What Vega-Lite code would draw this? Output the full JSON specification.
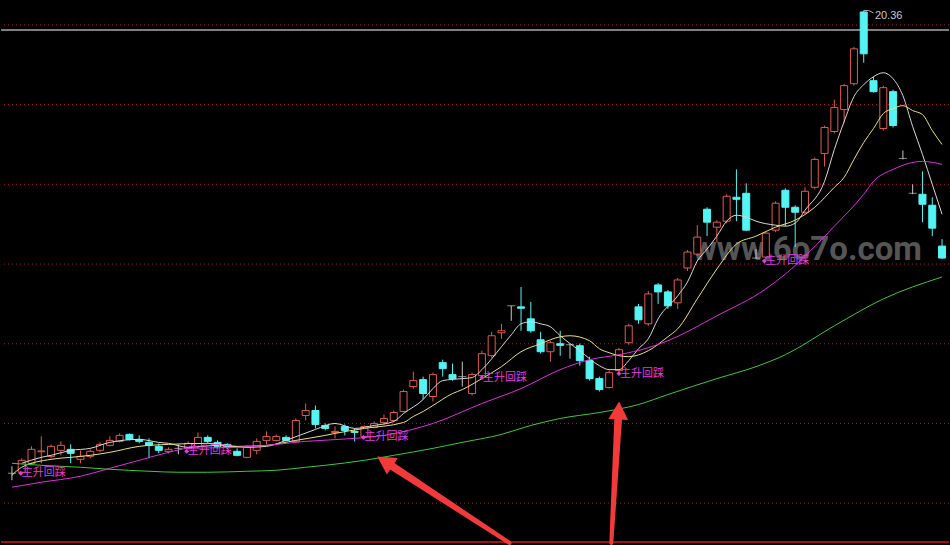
{
  "$schema": "https://vega.github.io/schema/vega-lite/v6.json",
  "width": 950,
  "height": 545,
  "autosize": {"type": "fit", "contains": "padding"},
  "padding": 0,
  "background": "#000000",
  "config": {"view": {"stroke": null}},
  "datasets": {
    "candles": [
      {"i": 0, "o": 8.75, "h": 8.925, "l": 8.575, "c": 8.75, "d": "flat"},
      {"i": 1, "o": 8.775, "h": 9.125, "l": 8.725, "c": 9.075, "d": "up"},
      {"i": 2, "o": 9.0, "h": 9.425, "l": 8.975, "c": 9.35, "d": "up"},
      {"i": 3, "o": 9.29, "h": 9.675, "l": 9.0, "c": 9.31, "d": "up"},
      {"i": 4, "o": 9.175, "h": 9.475, "l": 9.125, "c": 9.425, "d": "up"},
      {"i": 5, "o": 9.325, "h": 9.55, "l": 9.2, "c": 9.45, "d": "up"},
      {"i": 6, "o": 9.35, "h": 9.475, "l": 9.0, "c": 9.25, "d": "down"},
      {"i": 7, "o": 9.1, "h": 9.325, "l": 9.0, "c": 9.175, "d": "up"},
      {"i": 8, "o": 9.175, "h": 9.35, "l": 9.125, "c": 9.3, "d": "up"},
      {"i": 9, "o": 9.325, "h": 9.525, "l": 9.275, "c": 9.475, "d": "up"},
      {"i": 10, "o": 9.45, "h": 9.675, "l": 9.425, "c": 9.575, "d": "up"},
      {"i": 11, "o": 9.55, "h": 9.75, "l": 9.525, "c": 9.7, "d": "up"},
      {"i": 12, "o": 9.725, "h": 9.75, "l": 9.575, "c": 9.6, "d": "down"},
      {"i": 13, "o": 9.6, "h": 9.7, "l": 9.5, "c": 9.55, "d": "down"},
      {"i": 14, "o": 9.525, "h": 9.625, "l": 9.125, "c": 9.45, "d": "down"},
      {"i": 15, "o": 9.425, "h": 9.5, "l": 9.25, "c": 9.325, "d": "down"},
      {"i": 16, "o": 9.3, "h": 9.4, "l": 9.25, "c": 9.35, "d": "up"},
      {"i": 17, "o": 9.375, "h": 9.475, "l": 9.225, "c": 9.375, "d": "flat"},
      {"i": 18, "o": 9.375, "h": 9.55, "l": 9.35, "c": 9.5, "d": "up"},
      {"i": 19, "o": 9.425, "h": 9.775, "l": 9.375, "c": 9.65, "d": "up"},
      {"i": 20, "o": 9.65, "h": 9.7, "l": 9.5, "c": 9.55, "d": "down"},
      {"i": 21, "o": 9.525, "h": 9.575, "l": 9.375, "c": 9.425, "d": "down"},
      {"i": 22, "o": 9.475, "h": 9.5, "l": 9.35, "c": 9.4, "d": "down"},
      {"i": 23, "o": 9.3, "h": 9.375, "l": 9.175, "c": 9.2, "d": "down"},
      {"i": 24, "o": 9.15, "h": 9.45, "l": 9.125, "c": 9.4, "d": "up"},
      {"i": 25, "o": 9.325, "h": 9.625, "l": 9.225, "c": 9.55, "d": "up"},
      {"i": 26, "o": 9.575, "h": 9.8, "l": 9.475, "c": 9.675, "d": "up"},
      {"i": 27, "o": 9.575, "h": 9.725, "l": 9.55, "c": 9.675, "d": "up"},
      {"i": 28, "o": 9.65, "h": 9.7, "l": 9.55, "c": 9.575, "d": "down"},
      {"i": 29, "o": 9.55, "h": 10.125, "l": 9.525, "c": 10.075, "d": "up"},
      {"i": 30, "o": 10.2, "h": 10.5, "l": 10.075, "c": 10.325, "d": "up"},
      {"i": 31, "o": 10.325, "h": 10.45, "l": 9.875, "c": 9.975, "d": "down"},
      {"i": 32, "o": 9.95, "h": 10.0, "l": 9.825, "c": 9.875, "d": "down"},
      {"i": 33, "o": 9.775, "h": 9.925, "l": 9.625, "c": 9.8, "d": "up"},
      {"i": 34, "o": 9.925, "h": 9.975, "l": 9.7, "c": 9.825, "d": "down"},
      {"i": 35, "o": 9.8, "h": 9.875, "l": 9.55, "c": 9.775, "d": "down"},
      {"i": 36, "o": 9.675, "h": 9.95, "l": 9.625, "c": 9.925, "d": "up"},
      {"i": 37, "o": 9.9, "h": 10.05, "l": 9.875, "c": 10.0, "d": "up"},
      {"i": 38, "o": 10.025, "h": 10.225, "l": 9.975, "c": 10.125, "d": "up"},
      {"i": 39, "o": 10.075, "h": 10.325, "l": 10.025, "c": 10.275, "d": "up"},
      {"i": 40, "o": 10.3, "h": 10.85, "l": 10.275, "c": 10.8, "d": "up"},
      {"i": 41, "o": 10.925, "h": 11.3, "l": 10.875, "c": 11.075, "d": "up"},
      {"i": 42, "o": 11.1, "h": 11.175, "l": 10.6, "c": 10.75, "d": "down"},
      {"i": 43, "o": 10.675, "h": 11.275, "l": 10.55, "c": 11.225, "d": "up"},
      {"i": 44, "o": 11.525, "h": 11.6, "l": 11.175, "c": 11.375, "d": "down"},
      {"i": 45, "o": 11.225, "h": 11.5, "l": 11.075, "c": 11.125, "d": "down"},
      {"i": 46, "o": 11.175, "h": 11.55, "l": 10.925, "c": 11.175, "d": "flat"},
      {"i": 47, "o": 10.75, "h": 11.275, "l": 10.7, "c": 11.225, "d": "up"},
      {"i": 48, "o": 11.2, "h": 11.825, "l": 11.15, "c": 11.75, "d": "up"},
      {"i": 49, "o": 11.7, "h": 12.3, "l": 11.65, "c": 12.2, "d": "up"},
      {"i": 50, "o": 12.275, "h": 12.5, "l": 12.125, "c": 12.325, "d": "up"},
      {"i": 51, "o": 12.95, "h": 12.95, "l": 12.575, "c": 12.95, "d": "flat"},
      {"i": 52, "o": 12.925, "h": 13.425, "l": 12.325, "c": 12.89, "d": "down"},
      {"i": 53, "o": 12.625, "h": 13.05, "l": 12.275, "c": 12.325, "d": "down"},
      {"i": 54, "o": 12.1, "h": 12.3, "l": 11.75, "c": 11.8, "d": "down"},
      {"i": 55, "o": 11.8, "h": 12.075, "l": 11.55, "c": 12.025, "d": "up"},
      {"i": 56, "o": 12.0, "h": 12.325, "l": 11.7, "c": 11.96, "d": "down"},
      {"i": 57, "o": 11.975, "h": 12.0, "l": 11.625, "c": 11.975, "d": "flat"},
      {"i": 58, "o": 11.95, "h": 12.0, "l": 11.45, "c": 11.575, "d": "down"},
      {"i": 59, "o": 11.575, "h": 11.675, "l": 11.075, "c": 11.125, "d": "down"},
      {"i": 60, "o": 11.125, "h": 11.175, "l": 10.8, "c": 10.85, "d": "down"},
      {"i": 61, "o": 10.9, "h": 11.325, "l": 10.875, "c": 11.275, "d": "up"},
      {"i": 62, "o": 11.325, "h": 11.9, "l": 11.275, "c": 11.85, "d": "up"},
      {"i": 63, "o": 12.025, "h": 12.5, "l": 11.975, "c": 12.45, "d": "up"},
      {"i": 64, "o": 12.925, "h": 13.0, "l": 12.5, "c": 12.6, "d": "down"},
      {"i": 65, "o": 12.5, "h": 13.325, "l": 12.45, "c": 13.25, "d": "up"},
      {"i": 66, "o": 13.475, "h": 13.525, "l": 13.0, "c": 13.3, "d": "down"},
      {"i": 67, "o": 13.3, "h": 13.35, "l": 12.875, "c": 12.95, "d": "down"},
      {"i": 68, "o": 13.025, "h": 13.65, "l": 12.875, "c": 13.6, "d": "up"},
      {"i": 69, "o": 13.9, "h": 14.35, "l": 13.825, "c": 14.3, "d": "up"},
      {"i": 70, "o": 14.25, "h": 14.975, "l": 14.2, "c": 14.675, "d": "up"},
      {"i": 71, "o": 15.375, "h": 15.425, "l": 14.7, "c": 15.05, "d": "down"},
      {"i": 72, "o": 14.925, "h": 15.1, "l": 14.55, "c": 15.05, "d": "up"},
      {"i": 73, "o": 15.075, "h": 15.75, "l": 15.025, "c": 15.7, "d": "up"},
      {"i": 74, "o": 15.675, "h": 16.375, "l": 15.075, "c": 15.625, "d": "down"},
      {"i": 75, "o": 15.775, "h": 16.025, "l": 14.825, "c": 14.85, "d": "down"},
      {"i": 76, "o": 14.15, "h": 14.375, "l": 14.125, "c": 14.15, "d": "flat"},
      {"i": 77, "o": 14.175, "h": 14.825, "l": 14.075, "c": 14.775, "d": "up"},
      {"i": 78, "o": 14.85, "h": 15.575, "l": 14.8, "c": 15.525, "d": "up"},
      {"i": 79, "o": 15.85, "h": 15.9, "l": 14.95, "c": 15.425, "d": "down"},
      {"i": 80, "o": 15.425, "h": 15.475, "l": 14.425, "c": 15.3, "d": "down"},
      {"i": 81, "o": 15.3, "h": 15.925, "l": 15.25, "c": 15.825, "d": "up"},
      {"i": 82, "o": 15.925, "h": 16.675, "l": 15.875, "c": 16.625, "d": "up"},
      {"i": 83, "o": 16.775, "h": 17.475, "l": 16.45, "c": 17.425, "d": "up"},
      {"i": 84, "o": 17.325, "h": 18.125, "l": 17.275, "c": 17.925, "d": "up"},
      {"i": 85, "o": 17.875, "h": 18.525, "l": 17.55, "c": 18.475, "d": "up"},
      {"i": 86, "o": 18.525, "h": 19.45, "l": 18.475, "c": 19.4, "d": "up"},
      {"i": 87, "o": 20.325, "h": 20.36, "l": 19.05, "c": 19.275, "d": "down"},
      {"i": 88, "o": 18.6, "h": 18.7, "l": 18.3, "c": 18.325, "d": "down"},
      {"i": 89, "o": 17.4, "h": 18.475, "l": 17.35, "c": 18.425, "d": "up"},
      {"i": 90, "o": 18.325, "h": 18.375, "l": 17.425, "c": 17.475, "d": "down"},
      {"i": 91, "o": 16.65, "h": 16.85, "l": 16.625, "c": 16.65, "d": "flat"},
      {"i": 92, "o": 15.775, "h": 16.0, "l": 15.75, "c": 15.775, "d": "flat"},
      {"i": 93, "o": 15.75, "h": 16.325, "l": 15.05, "c": 15.5, "d": "down"},
      {"i": 94, "o": 15.475, "h": 15.675, "l": 14.7, "c": 14.9, "d": "down"},
      {"i": 95, "o": 14.45, "h": 14.625, "l": 14.125, "c": 14.15, "d": "down"}
    ],
    "ma": [
      {"s": "ma5", "i": 1, "v": 9.0}, {"s": "ma5", "i": 3, "v": 9.15}, {"s": "ma5", "i": 4, "v": 9.2},
      {"s": "ma5", "i": 6, "v": 9.325}, {"s": "ma5", "i": 8, "v": 9.375}, {"s": "ma5", "i": 10, "v": 9.525},
      {"s": "ma5", "i": 13, "v": 9.6}, {"s": "ma5", "i": 15, "v": 9.525}, {"s": "ma5", "i": 16, "v": 9.5},
      {"s": "ma5", "i": 18, "v": 9.4}, {"s": "ma5", "i": 21, "v": 9.45}, {"s": "ma5", "i": 24, "v": 9.4},
      {"s": "ma5", "i": 26, "v": 9.425}, {"s": "ma5", "i": 28, "v": 9.575}, {"s": "ma5", "i": 31, "v": 9.85},
      {"s": "ma5", "i": 33, "v": 10.0}, {"s": "ma5", "i": 35, "v": 9.875}, {"s": "ma5", "i": 37, "v": 9.95},
      {"s": "ma5", "i": 39, "v": 10.05}, {"s": "ma5", "i": 40, "v": 10.25}, {"s": "ma5", "i": 42, "v": 10.6},
      {"s": "ma5", "i": 43, "v": 10.875}, {"s": "ma5", "i": 44, "v": 11.075}, {"s": "ma5", "i": 46, "v": 11.125},
      {"s": "ma5", "i": 47, "v": 11.15}, {"s": "ma5", "i": 48, "v": 11.35}, {"s": "ma5", "i": 50, "v": 11.925},
      {"s": "ma5", "i": 51, "v": 12.225}, {"s": "ma5", "i": 52, "v": 12.5}, {"s": "ma5", "i": 53, "v": 12.55},
      {"s": "ma5", "i": 54, "v": 12.5}, {"s": "ma5", "i": 55, "v": 12.425}, {"s": "ma5", "i": 56, "v": 12.2},
      {"s": "ma5", "i": 58, "v": 11.825}, {"s": "ma5", "i": 60, "v": 11.45}, {"s": "ma5", "i": 61, "v": 11.35},
      {"s": "ma5", "i": 62, "v": 11.35}, {"s": "ma5", "i": 63, "v": 11.575}, {"s": "ma5", "i": 64, "v": 11.875},
      {"s": "ma5", "i": 65, "v": 12.125}, {"s": "ma5", "i": 66, "v": 12.625}, {"s": "ma5", "i": 68, "v": 13.2},
      {"s": "ma5", "i": 69, "v": 13.55}, {"s": "ma5", "i": 70, "v": 14.075}, {"s": "ma5", "i": 71, "v": 14.375},
      {"s": "ma5", "i": 72, "v": 14.7}, {"s": "ma5", "i": 73, "v": 15.075}, {"s": "ma5", "i": 74, "v": 15.225},
      {"s": "ma5", "i": 75, "v": 15.175}, {"s": "ma5", "i": 76, "v": 15.075}, {"s": "ma5", "i": 78, "v": 14.975},
      {"s": "ma5", "i": 79, "v": 14.95}, {"s": "ma5", "i": 80, "v": 15.025}, {"s": "ma5", "i": 81, "v": 15.35},
      {"s": "ma5", "i": 83, "v": 16.075}, {"s": "ma5", "i": 84, "v": 16.875}, {"s": "ma5", "i": 85, "v": 17.575},
      {"s": "ma5", "i": 86, "v": 18.2}, {"s": "ma5", "i": 87, "v": 18.5}, {"s": "ma5", "i": 88, "v": 18.7},
      {"s": "ma5", "i": 89, "v": 18.8}, {"s": "ma5", "i": 90, "v": 18.65}, {"s": "ma5", "i": 91, "v": 18.225},
      {"s": "ma5", "i": 92, "v": 17.45}, {"s": "ma5", "i": 93, "v": 16.75}, {"s": "ma5", "i": 94, "v": 16.0},
      {"s": "ma5", "i": 95, "v": 15.25},
      {"s": "ma10", "i": 0, "v": 8.7}, {"s": "ma10", "i": 1, "v": 8.9}, {"s": "ma10", "i": 4, "v": 9.1},
      {"s": "ma10", "i": 6, "v": 9.15}, {"s": "ma10", "i": 8, "v": 9.2}, {"s": "ma10", "i": 10, "v": 9.275},
      {"s": "ma10", "i": 13, "v": 9.425}, {"s": "ma10", "i": 16, "v": 9.475}, {"s": "ma10", "i": 20, "v": 9.5},
      {"s": "ma10", "i": 23, "v": 9.425}, {"s": "ma10", "i": 26, "v": 9.45}, {"s": "ma10", "i": 29, "v": 9.575},
      {"s": "ma10", "i": 32, "v": 9.7}, {"s": "ma10", "i": 33, "v": 9.75}, {"s": "ma10", "i": 36, "v": 9.875},
      {"s": "ma10", "i": 40, "v": 10.025}, {"s": "ma10", "i": 41, "v": 10.175}, {"s": "ma10", "i": 42, "v": 10.3},
      {"s": "ma10", "i": 43, "v": 10.45}, {"s": "ma10", "i": 45, "v": 10.75}, {"s": "ma10", "i": 46, "v": 10.85},
      {"s": "ma10", "i": 48, "v": 11.125}, {"s": "ma10", "i": 50, "v": 11.425}, {"s": "ma10", "i": 52, "v": 11.8},
      {"s": "ma10", "i": 54, "v": 12.0}, {"s": "ma10", "i": 56, "v": 12.175}, {"s": "ma10", "i": 57, "v": 12.2},
      {"s": "ma10", "i": 59, "v": 12.075}, {"s": "ma10", "i": 60, "v": 11.875}, {"s": "ma10", "i": 61, "v": 11.775},
      {"s": "ma10", "i": 62, "v": 11.7}, {"s": "ma10", "i": 63, "v": 11.675}, {"s": "ma10", "i": 65, "v": 11.825},
      {"s": "ma10", "i": 67, "v": 12.175}, {"s": "ma10", "i": 68, "v": 12.375}, {"s": "ma10", "i": 70, "v": 13.125},
      {"s": "ma10", "i": 72, "v": 13.875}, {"s": "ma10", "i": 74, "v": 14.5}, {"s": "ma10", "i": 76, "v": 14.7},
      {"s": "ma10", "i": 78, "v": 14.925}, {"s": "ma10", "i": 80, "v": 15.1}, {"s": "ma10", "i": 82, "v": 15.425},
      {"s": "ma10", "i": 84, "v": 15.925}, {"s": "ma10", "i": 85, "v": 16.175}, {"s": "ma10", "i": 86, "v": 16.625},
      {"s": "ma10", "i": 87, "v": 17.05}, {"s": "ma10", "i": 88, "v": 17.4}, {"s": "ma10", "i": 89, "v": 17.775},
      {"s": "ma10", "i": 90, "v": 17.9}, {"s": "ma10", "i": 91, "v": 17.975}, {"s": "ma10", "i": 92, "v": 17.85},
      {"s": "ma10", "i": 93, "v": 17.75}, {"s": "ma10", "i": 94, "v": 17.35}, {"s": "ma10", "i": 95, "v": 17.0},
      {"s": "ma30", "i": 0, "v": 8.4}, {"s": "ma30", "i": 3, "v": 8.525}, {"s": "ma30", "i": 7, "v": 8.675},
      {"s": "ma30", "i": 10, "v": 8.875}, {"s": "ma30", "i": 13, "v": 9.075}, {"s": "ma30", "i": 16, "v": 9.275},
      {"s": "ma30", "i": 18, "v": 9.375}, {"s": "ma30", "i": 23, "v": 9.4}, {"s": "ma30", "i": 26, "v": 9.45},
      {"s": "ma30", "i": 30, "v": 9.55}, {"s": "ma30", "i": 35, "v": 9.625}, {"s": "ma30", "i": 38, "v": 9.7},
      {"s": "ma30", "i": 43, "v": 10.0}, {"s": "ma30", "i": 48, "v": 10.5}, {"s": "ma30", "i": 52, "v": 10.875},
      {"s": "ma30", "i": 56, "v": 11.35}, {"s": "ma30", "i": 59, "v": 11.6}, {"s": "ma30", "i": 62, "v": 11.725},
      {"s": "ma30", "i": 65, "v": 11.9}, {"s": "ma30", "i": 67, "v": 12.075}, {"s": "ma30", "i": 72, "v": 12.7},
      {"s": "ma30", "i": 77, "v": 13.375}, {"s": "ma30", "i": 79, "v": 13.75}, {"s": "ma30", "i": 84, "v": 14.95},
      {"s": "ma30", "i": 87, "v": 15.75}, {"s": "ma30", "i": 88, "v": 16.075}, {"s": "ma30", "i": 90, "v": 16.375},
      {"s": "ma30", "i": 93, "v": 16.575}, {"s": "ma30", "i": 95, "v": 16.5},
      {"s": "ma60", "i": 0, "v": 9.0}, {"s": "ma60", "i": 3, "v": 8.95}, {"s": "ma60", "i": 7, "v": 8.9},
      {"s": "ma60", "i": 10, "v": 8.85}, {"s": "ma60", "i": 14, "v": 8.8}, {"s": "ma60", "i": 17, "v": 8.775},
      {"s": "ma60", "i": 20, "v": 8.775}, {"s": "ma60", "i": 24, "v": 8.8}, {"s": "ma60", "i": 27, "v": 8.825},
      {"s": "ma60", "i": 30, "v": 8.9}, {"s": "ma60", "i": 32, "v": 8.95}, {"s": "ma60", "i": 36, "v": 9.075},
      {"s": "ma60", "i": 39, "v": 9.2}, {"s": "ma60", "i": 43, "v": 9.375}, {"s": "ma60", "i": 46, "v": 9.525},
      {"s": "ma60", "i": 50, "v": 9.725}, {"s": "ma60", "i": 53, "v": 9.95}, {"s": "ma60", "i": 56, "v": 10.125},
      {"s": "ma60", "i": 60, "v": 10.275}, {"s": "ma60", "i": 64, "v": 10.475}, {"s": "ma60", "i": 67, "v": 10.725},
      {"s": "ma60", "i": 72, "v": 11.125}, {"s": "ma60", "i": 76, "v": 11.425}, {"s": "ma60", "i": 79, "v": 11.725},
      {"s": "ma60", "i": 84, "v": 12.45}, {"s": "ma60", "i": 89, "v": 13.125}, {"s": "ma60", "i": 95, "v": 13.675}
    ],
    "labels": [
      {"i": 0.9, "p": 8.75, "t": "主升回踩"},
      {"i": 17.85, "p": 9.3, "t": "主升回踩"},
      {"i": 35.9, "p": 9.65, "t": "主升回踩"},
      {"i": 48.0, "p": 11.15, "t": "主升回踩"},
      {"i": 62.0, "p": 11.25, "t": "主升回踩"},
      {"i": 76.85, "p": 14.075, "t": "主升回踩"}
    ],
    "arrows": [
      {"a": "a1", "i": 50.83, "p": 7.0, "w": 0},
      {"a": "a1", "i": 38.08, "p": 9.05, "w": 1},
      {"a": "a2", "i": 61.22, "p": 7.0, "w": 0},
      {"a": "a2", "i": 61.97, "p": 10.325, "w": 1}
    ],
    "grid": [{"p": 8}, {"p": 10}, {"p": 12}, {"p": 14}, {"p": 16}, {"p": 18}, {"p": 20}]
  },
  "layer": [
    {
      "data": {"name": "grid"},
      "mark": {"type": "rule", "color": "#b01818", "strokeWidth": 1, "strokeDash": [1, 3]},
      "encoding": {
        "y": {"field": "p", "type": "quantitative", "scale": {"domain": [7, 20.625], "nice": false, "zero": false}, "axis": null}
      }
    },
    {
      "data": {"values": [{"p": 19.875}]},
      "mark": {"type": "rule", "color": "#a8a8a8", "strokeWidth": 1.5},
      "encoding": {"y": {"field": "p", "type": "quantitative"}}
    },
    {
      "data": {"values": [{"p": 7.025}]},
      "mark": {"type": "rule", "color": "#a01010", "strokeWidth": 2},
      "encoding": {"y": {"field": "p", "type": "quantitative"}}
    },
    {
      "data": {"values": [{"i": 81.23, "p": 14.1, "t": "www.6o7o.com"}]},
      "mark": {"type": "text", "font": "Roboto", "fontWeight": "bold", "fontSize": 33, "color": "#8a8a8a", "opacity": 0.62, "align": "center", "baseline": "alphabetic"},
      "encoding": {
        "x": {"field": "i", "type": "quantitative", "scale": {"domain": [-0.605, 95.2], "nice": false, "zero": false}, "axis": null},
        "y": {"field": "p", "type": "quantitative"},
        "text": {"field": "t"}
      }
    },
    {
      "data": {"name": "candles"},
      "mark": {"type": "rule", "strokeWidth": 1},
      "encoding": {
        "x": {"field": "i", "type": "quantitative"},
        "y": {"field": "h", "type": "quantitative"},
        "y2": {"field": "l"},
        "stroke": {"field": "d", "type": "nominal", "scale": {"domain": ["up", "down", "flat"], "range": ["#e05a50", "#55f4f4", "#c8c8c8"]}, "legend": null}
      }
    },
    {
      "data": {"name": "candles"},
      "transform": [{"filter": "datum.d != 'flat'"}],
      "mark": {"type": "bar", "size": 7, "strokeWidth": 1},
      "encoding": {
        "x": {"field": "i", "type": "quantitative"},
        "y": {"field": "o", "type": "quantitative"},
        "y2": {"field": "c"},
        "fill": {"field": "d", "type": "nominal", "scale": {"domain": ["up", "down", "flat"], "range": ["#000000", "#55f4f4", "#c8c8c8"]}, "legend": null},
        "stroke": {"field": "d", "type": "nominal", "legend": null}
      }
    },
    {
      "data": {"name": "candles"},
      "transform": [{"filter": "datum.d == 'flat'"}],
      "mark": {"type": "tick", "orient": "horizontal", "size": 8, "thickness": 1, "color": "#c8c8c8"},
      "encoding": {
        "x": {"field": "i", "type": "quantitative"},
        "y": {"field": "o", "type": "quantitative"}
      }
    },
    {
      "data": {"name": "ma"},
      "mark": {"type": "line", "strokeWidth": 1, "interpolate": "monotone"},
      "encoding": {
        "x": {"field": "i", "type": "quantitative"},
        "y": {"field": "v", "type": "quantitative"},
        "color": {"field": "s", "type": "nominal", "scale": {"domain": ["ma5", "ma10", "ma30", "ma60"], "range": ["#d8d8d8", "#e8e27a", "#e02ce0", "#3cc83c"]}, "legend": null}
      }
    },
    {
      "data": {"name": "labels"},
      "mark": {"type": "point", "filled": true, "shape": "diamond", "size": 24, "color": "#e03ce0", "opacity": 1},
      "encoding": {
        "x": {"field": "i", "type": "quantitative"},
        "y": {"field": "p", "type": "quantitative"}
      }
    },
    {
      "data": {"name": "labels"},
      "mark": {"type": "text", "font": "Noto Sans CJK SC", "fontSize": 11, "color": "#e03ce0", "align": "left", "baseline": "middle", "dx": 1},
      "encoding": {
        "x": {"field": "i", "type": "quantitative"},
        "y": {"field": "p", "type": "quantitative"},
        "text": {"field": "t"}
      }
    },
    {
      "data": {"values": [{"i": 87.0, "p": 20.36}, {"i": 87.5, "p": 20.36}, {"i": 88.0, "p": 20.3}]},
      "mark": {"type": "line", "color": "#b0b0b0", "strokeWidth": 1},
      "encoding": {
        "x": {"field": "i", "type": "quantitative"},
        "y": {"field": "p", "type": "quantitative"}
      }
    },
    {
      "data": {"values": [{"i": 88.14, "p": 20.225, "t": "20.36"}]},
      "mark": {"type": "text", "font": "Liberation Sans", "fontSize": 11, "color": "#c8c8c8", "align": "left", "baseline": "middle"},
      "encoding": {
        "x": {"field": "i", "type": "quantitative"},
        "y": {"field": "p", "type": "quantitative"},
        "text": {"field": "t"}
      }
    },
    {
      "data": {"name": "arrows"},
      "mark": {"type": "trail", "color": "#f23a3a"},
      "encoding": {
        "x": {"field": "i", "type": "quantitative"},
        "y": {"field": "p", "type": "quantitative"},
        "detail": {"field": "a"},
        "size": {"field": "w", "type": "quantitative", "scale": {"domain": [0, 1], "range": [4, 8]}, "legend": null}
      }
    },
    {
      "data": {"values": [{"i": 38.08, "p": 9.05}]},
      "mark": {"type": "point", "filled": true, "shape": "M0,-1L1.1,1L-1.1,1Z", "size": 324, "angle": 303, "color": "#f23a3a", "opacity": 1},
      "encoding": {
        "x": {"field": "i", "type": "quantitative"},
        "y": {"field": "p", "type": "quantitative"}
      }
    },
    {
      "data": {"values": [{"i": 61.97, "p": 10.325}]},
      "mark": {"type": "point", "filled": true, "shape": "M0,-1L1.1,1L-1.1,1Z", "size": 324, "angle": 3, "color": "#f23a3a", "opacity": 1},
      "encoding": {
        "x": {"field": "i", "type": "quantitative"},
        "y": {"field": "p", "type": "quantitative"}
      }
    }
  ]
}
